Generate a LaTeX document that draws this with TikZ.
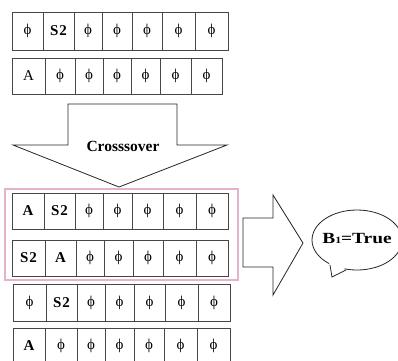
\documentclass[tikz,border=0pt]{standalone}
\usepackage{fontspec}
\setmainfont{Liberation Serif}
\usetikzlibrary{shapes.geometric}
\definecolor{pinkline}{RGB}{228,178,202}
\definecolor{cellline}{RGB}{70,70,70}
\tikzset{
  cellbox/.style={draw=cellline, line width=0.9pt, inner sep=0pt, outer sep=0pt,
    font=\fontsize{15}{15}\selectfont},
  arrowshape/.style={draw=black!85, line width=0.8pt, fill=white, line join=miter},
  groupbox/.style={draw=pinkline, line width=2.2pt},
  bubble/.style={draw=black!85, line width=0.8pt, ellipse, fill=white, inner sep=0pt,
    minimum width=90pt, minimum height=60pt},
  bigbold/.style={font=\bfseries\fontsize{15.5}{15.5}\selectfont},
}
\newcommand\ph{ϕ}
\newcommand\SB{\textbf{S\kern1pt 2}}
\newcommand\AB{\textbf{A}}
\newcommand\cellrow[4]{%
  \foreach \xa/\xb/\txt [count=\i] in {#4}{%
    \node[cellbox, minimum width={(\xb-\xa)*1pt}, minimum height={(#3-#2)*1pt}]
      (#1c\i) at ({(\xa+\xb)/2},{(#2+#3)/2}) {\txt};}}
\begin{document}
\begin{tikzpicture}[x=1pt,y=-1pt]
\useasboundingbox (0,0) rectangle (398,360);
% rows before crossover
\cellrow{ra}{12}{50}{12/43/\ph, 43/74/\SB, 74/102/\ph, 102/132/\ph, 132/162/\ph, 162/195/\ph, 195/228/\ph}
\cellrow{rb}{58}{94}{12/45/A, 45/75/\ph, 75/103/\ph, 103/131/\ph, 131/160/\ph, 160/191/\ph, 191/222/\ph}
% crossover arrow
\draw[arrowshape] (68,104) -- (177,104) -- (177,145) -- (227,145) -- (119,187)
  -- (13,145) -- (68,145) -- cycle;
\node[bigbold] (xlabel) at (123,146) {Crosssover};
% group box
\draw[groupbox] (5,189) rectangle (238,280);
% rows after crossover
\cellrow{rc}{193}{229}{12/44/\AB, 44/75/\SB, 75/103/\ph, 103/132/\ph, 132/163/\ph, 163/196/\ph, 196/228/\ph}
\cellrow{rd}{240}{276}{12/45/\SB, 45/76/\AB, 76/104/\ph, 104/133/\ph, 133/163/\ph, 163/196/\ph, 196/228/\ph}
\cellrow{re}{284}{321}{13/46/\ph, 46/77/\SB, 77/105/\ph, 105/134/\ph, 134/165/\ph, 165/198/\ph, 198/230/\ph}
\cellrow{rf}{328}{363}{13/45/\AB, 45/77/\ph, 77/105/\ph, 105/134/\ph, 134/164/\ph, 164/197/\ph, 197/230/\ph}
% right arrow
\draw[arrowshape] (243,218) -- (273,218) -- (273,195) -- (303,243) -- (273,295)
  -- (273,267) -- (243,267) -- cycle;
% speech bubble
\node[bubble] (bub) at (357,240) {};
\fill[white] (329,262) -- (332,277.5) -- (348,266) -- cycle;
\coordinate (tailtip) at (332,277);
\draw[black!85, line width=0.8pt, line join=miter] (330,265) -- (tailtip) -- (346,270);
\node[bigbold] (btext) at (357,239) {\scalebox{1.25}[1]{B{\fontsize{9.5}{9.5}\selectfont 1}=True}};
\end{tikzpicture}
\end{document}
